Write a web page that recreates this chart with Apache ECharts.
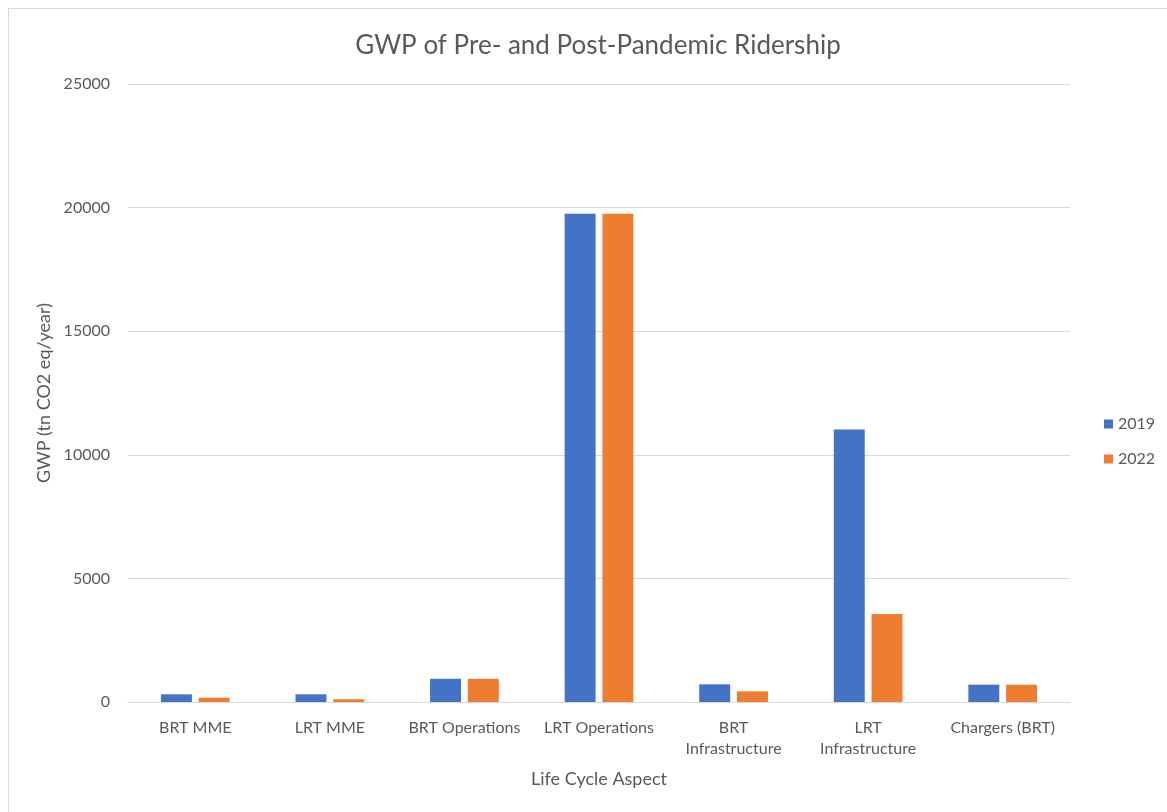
<!DOCTYPE html>
<html>
<head>
    <meta charset="utf-8">
    <title>GWP of Pre- and Post-Pandemic Ridership</title>
    <script src="https://cdn.jsdelivr.net/npm/echarts@6/dist/echarts.min.js"></script>
    <style>
        html, body { margin: 0; padding: 0; background: #fff; }
        #frame { position: absolute; left: 8px; top: 8px; width: 1170px; height: 820px; border: 1px solid #d9d9d9; box-sizing: border-box; }
        #main { position: absolute; left: 0; top: 0; width: 1167px; height: 812px; }
    </style>
</head>
<body>
    <div id="frame"></div>
    <div id="main"></div>
    <script type="text/javascript">
        // categories and values
        var categories = ['BRT MME', 'LRT MME', 'BRT Operations', 'LRT Operations', 'BRT\nInfrastructure', 'LRT\nInfrastructure', 'Chargers (BRT)'];
        var values2019 = [310, 310, 940, 19750, 715, 11020, 700];
        var values2022 = [175, 110, 940, 19750, 430, 3555, 700];
        var seriesNames = ['2019', '2022'];

        var font = 'Lato, "Open Sans", sans-serif';
        var myChart = echarts.init(document.getElementById('main'));

        var option = {
            textStyle: { fontFamily: font },
            title: {
                text: 'GWP of Pre- and Post-Pandemic Ridership',
                left: 593, top: 28, textAlign: 'center',
                textStyle: { fontFamily: font, fontSize: 26, fontWeight: 'normal', color: '#595959' }
            },
            legend: {
                orient: 'vertical',
                left: 1099, top: 411,
                itemWidth: 9, itemHeight: 9, itemGap: 19,
                icon: 'rect',
                data: seriesNames,
                textStyle: { fontFamily: font, fontSize: 16, color: '#595959' }
            },
            grid: { left: 128, right: 97, top: 84, bottom: 110, containLabel: false },
            xAxis: {
                type: 'category',
                data: categories,
                name: 'Life Cycle Aspect',
                nameLocation: 'middle',
                nameGap: 68,
                nameTextStyle: { fontFamily: font, fontSize: 18, color: '#595959' },
                axisLine: { lineStyle: { color: '#d9d9d9', width: 1 } },
                axisTick: { show: false },
                axisLabel: { fontFamily: font, fontSize: 16, color: '#595959', margin: 15, interval: 0, lineHeight: 21 }
            },
            yAxis: {
                type: 'value',
                min: 0, max: 25000, interval: 5000,
                name: 'GWP (tn CO2 eq/year)',
                nameLocation: 'middle',
                nameGap: 74,
                nameTextStyle: { fontFamily: font, fontSize: 18, color: '#595959' },
                axisLine: { show: false },
                axisTick: { show: false },
                splitLine: { lineStyle: { color: '#d9d9d9', width: 1 } },
                axisLabel: { fontFamily: font, fontSize: 16, color: '#595959', margin: 18, formatter: function (v) { return String(v); } }
            },
            series: [
                {
                    name: seriesNames[0], type: 'bar', data: values2019,
                    barWidth: '23%', barGap: '22%',
                    itemStyle: { color: '#4472c4' }
                },
                {
                    name: seriesNames[1], type: 'bar', data: values2022,
                    barWidth: '23%',
                    itemStyle: { color: '#ed7d31' }
                }
            ]
        };

        myChart.setOption(option);
    </script>
</body>
</html>
